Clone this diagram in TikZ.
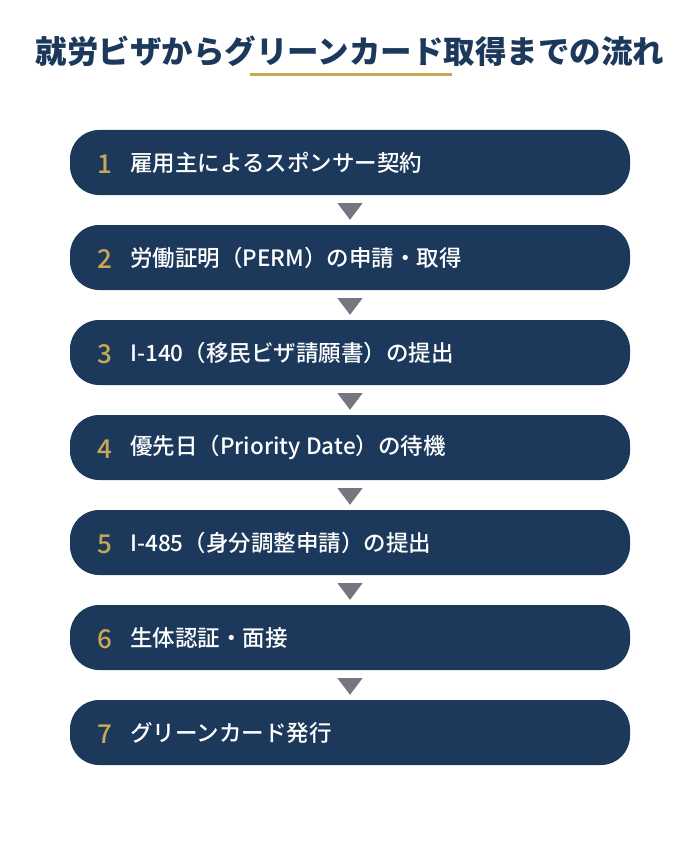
\documentclass[tikz,border=0pt]{standalone}
\usepackage{fontspec}
\setmainfont{Noto Sans CJK JP}
\newfontfamily\jpmedium{Noto Sans CJK JP Medium}
\usetikzlibrary{calc}
\definecolor{navy}{RGB}{28,57,92}
\definecolor{gold}{RGB}{200,168,84}
\definecolor{arrowgray}{RGB}{118,118,128}

\begin{document}
\begin{tikzpicture}[x=1pt,y=-1pt,
    stepbox/.style={fill=navy,rounded corners=29pt,minimum width=560pt,minimum height=65pt,inner sep=0pt},
    stepnum/.style={text=gold,font=\fontsize{26}{26}\jpmedium},
    steptext/.style={text=white,anchor=west,inner sep=0pt,font=\fontsize{22.5}{22.5}\jpmedium}]
    \useasboundingbox (0,0) rectangle (700,845);

    % Title with gold underline
    \node[text=navy,font=\fontsize{31.5}{31.5}\selectfont\bfseries] (title) at (350,51) {就労ビザからグリーンカード取得までの流れ};
    \draw[gold,line width=3pt] (250,75) -- (452,75);

    % Steps
    \foreach \n/\t in {1/雇用主によるスポンサー契約,2/労働証明（PERM）の申請・取得,3/I-140（移民ビザ請願書）の提出,4/優先日（Priority Date）の待機,5/I-485（身分調整申請）の提出,6/生体認証・面接,7/グリーンカード発行} {
        \node[stepbox] (step\n) at (350,{162.5+95*(\n-1)}) {};
        \node[stepnum] (num\n) at (105,{164+95*(\n-1)}) {\n};
        \node[steptext] (label\n) at (130,{162.5+95*(\n-1)}) {\t};
    }

    % Down markers between steps
    \foreach \a/\b in {1/2,2/3,3/4,4/5,5/6,6/7}
        \fill[arrowgray] ($(step\a.south)+(-12.5,8)$) -- ($(step\a.south)+(12.5,8)$) -- ($(step\b.north)+(0,-5)$) -- cycle;
\end{tikzpicture}
\end{document}
